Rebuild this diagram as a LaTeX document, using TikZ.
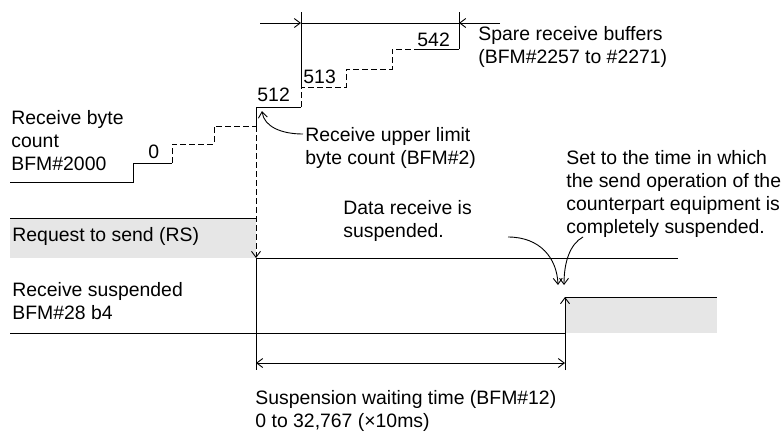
\documentclass[tikz,border=0pt]{standalone}
\usepackage{fontspec}
\setmainfont{Liberation Sans}
\usetikzlibrary{arrows.meta}
\definecolor{level-gray}{HTML}{E6E6E6}

\begin{document}
\begin{tikzpicture}[x=1pt, y=-1pt, line width=0.9pt,
    >={Straight Barb[length=6pt,width=9pt]},
    every node/.style={font=\fontsize{19.4}{23}\selectfont, inner sep=0pt},
    note/.style={anchor=north west, align=left},
    count/.style={anchor=base west},
    future/.style={dash pattern=on 6pt off 3pt}]
  \useasboundingbox (0,0) rectangle (784,437);

  % receive byte count staircase
  \node[note] (bytecnt) at (11,110) {Receive byte\\count\\BFM\#2000};
  \draw (10,182) -- (133,182) -- (133,163) -- (172,163);
  \draw[future] (172,163) -- (172,144) -- (214,144) -- (214,126) -- (256,126);
  \draw (256,126) -- (256,107) -- (301,107);
  \draw[future] (301,107) -- (301,87) -- (346,87) -- (346,69) -- (392,69)
    -- (392,49) -- (417,49);
  \draw (417,49) -- (459,49);
  \node[count] (cnt0) at (148,158) {0};
  \node[count] (cnt512) at (257,101) {512};
  \node[count] (cnt513) at (303,83) {513};
  \node[count] (cnt542) at (417,46) {542};

  % spare receive buffers
  \draw (301,87) -- (301,12);
  \draw (459,49) -- (459,12);
  \draw[->] (260,23) -- (301,23);
  \draw (301,23) -- (459,23);
  \draw[->] (500,23) -- (459,23);
  \node[note] (spare) at (478,26) {Spare receive buffers\\(BFM\#2257 to \#2271)};

  % upper limit
  \node[note] (upper) at (305,127) {Receive upper limit\\byte count (BFM\#2)};
  \coordinate (limit) at (262,111);
  \draw[->] ([shift={(-2,7)}]upper.north west)
    .. controls (282,134) and (264,127) .. (limit);

  % request to send
  \fill[level-gray] (10,218) rectangle (256,258);
  \draw (10,218) -- (256,218);
  \node[note] (rs) at (12,227) {Request to send (RS)};
  \draw[future, ->] (256,126) -- (256,258);
  \draw (256,258) -- (256,370);
  \draw (256,258) -- (678,258);
  \node[note] (datarx) at (343,200) {Data receive is\\suspended.};

  % receive suspended
  \node[note] (rxsusp) at (12,282) {Receive suspended\\BFM\#28 b4};
  \draw (10,333) -- (565,333);
  \fill[level-gray] (565,297) rectangle (717,333);
  \draw (565,297) -- (717,297);
  \draw[->] (565,370) -- (565,297);

  % send stop note
  \node[note] (setnote) at (566,150)
    {Set to the time in which\\the send operation of the\\counterpart equipment is\\completely suspended.};
  \coordinate (fromdata) at (508,237);
  \coordinate (fromset) at (583,237);
  \coordinate (stopl) at (558,285);
  \coordinate (stopr) at (564,285);
  \draw[->] (fromdata) .. controls (540,237) and (557,258) .. (stopl);
  \draw[->] (fromset) .. controls (570,244) and (564,262) .. (stopr);

  % suspension waiting time
  \draw[<->] (256,363) -- (565,363);
  \node[note] (waittime) at (255,390)
    {Suspension waiting time (BFM\#12)\\0 to 32,767 (×10ms)};
\end{tikzpicture}
\end{document}
